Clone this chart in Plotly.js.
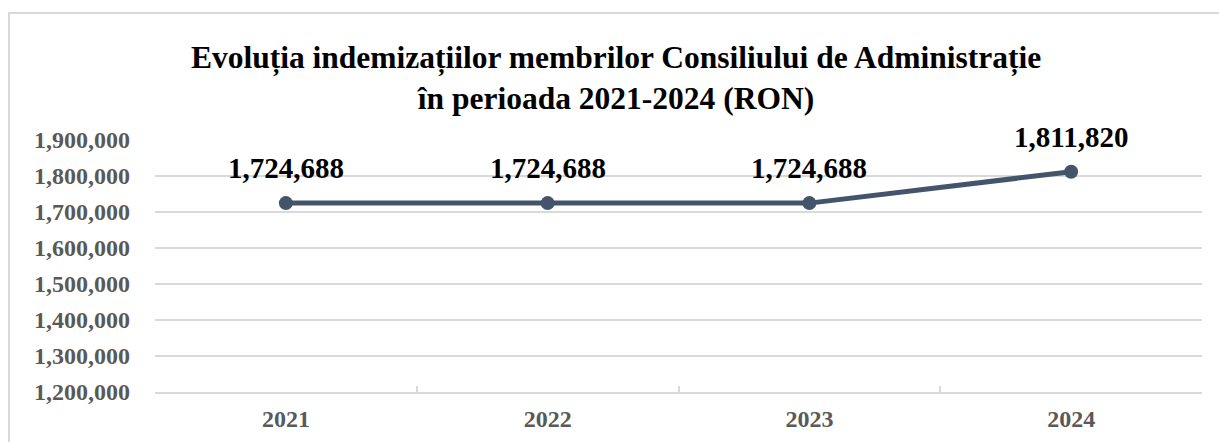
<!DOCTYPE html>
<html>
<head>
<meta charset="utf-8">
<script src="https://cdn.plot.ly/plotly-3.0.1.min.js"></script>
<style>html,body{margin:0;padding:0;background:#fff;}#chart{width:1219px;height:442px;}</style>
</head>
<body>
<div id="chart"></div>
<script>
const years = ['2021', '2022', '2023', '2024'];
const values = [1724688, 1724688, 1724688, 1811820];
const yTicks = [1200000, 1300000, 1400000, 1500000, 1600000, 1700000, 1800000, 1900000];
const titleLines = ['Evoluția indemizațiilor membrilor Consiliului de Administrație', 'în perioada 2021-2024 (RON)'];

const fmt = v => v.toLocaleString('en-US');
const serif = '"Liberation Serif", "Times New Roman", serif';
const lineColor = '#44546A';
const gridColor = '#d9d9d9';

const W = 1219, H = 442;
const margin = {l: 155, r: 17, t: 140, b: 50};
const pw = W - margin.l - margin.r, ph = H - margin.t - margin.b;
const px = x => (x - margin.l) / pw;
const py = y => (H - margin.b - y) / ph;

const trace = {
  x: years, y: values, type: 'scatter', mode: 'lines+markers',
  line: {color: lineColor, width: 5},
  marker: {color: lineColor, size: 14},
  hoverinfo: 'skip', showlegend: false, cliponaxis: false
};

const annotations = years.map((yr, i) => ({
  x: i, y: values[i], xref: 'x', yref: 'y',
  text: '<b>' + fmt(values[i]) + '</b>', showarrow: false,
  yanchor: 'bottom', yshift: 17,
  font: {family: serif, size: 29, color: '#000'}
}));

const layout = {
  width: W, height: H, margin: margin,
  paper_bgcolor: '#fff', plot_bgcolor: '#fff',
  title: {
    text: '<b>' + titleLines.join('<br>') + '</b>',
    font: {family: serif, size: 31.5, color: '#000'},
    x: 616 / W, xref: 'container', xanchor: 'center',
    y: 0.846, yref: 'container', yanchor: 'top'
  },
  xaxis: {
    type: 'category', categoryorder: 'array', categoryarray: years,
    range: [-0.5, years.length - 0.5], autorange: false,
    showgrid: false, zeroline: false,
    showline: true, linecolor: gridColor, linewidth: 2,
    ticks: 'inside', tickson: 'boundaries', ticklen: 6, tickcolor: gridColor, tickwidth: 2,
    tickfont: {family: serif, size: 24, color: '#595959'},
    tickprefix: '<b>', ticksuffix: '</b>', tickangle: 0,
    ticklabelstandoff: 4, fixedrange: true
  },
  yaxis: {
    range: [1200000, 1900000], autorange: false, tickvals: yTicks,
    ticktext: yTicks.map(v => '<b>' + fmt(v) + '</b>'),
    showgrid: true, gridcolor: gridColor, gridwidth: 2,
    zeroline: false, showline: false, ticks: '',
    tickfont: {family: serif, size: 24, color: '#595959'},
    ticklabelstandoff: 24, fixedrange: true
  },
  annotations: annotations,
  shapes: [{
    type: 'rect', xref: 'paper', yref: 'paper',
    x0: px(9), x1: px(W + 10), y0: py(H + 10), y1: py(13),
    line: {color: gridColor, width: 2}, fillcolor: 'rgba(0,0,0,0)', layer: 'below'
  }]
};

Plotly.newPlot('chart', [trace], layout, {displayModeBar: false, staticPlot: true});
</script>
</body>
</html>
